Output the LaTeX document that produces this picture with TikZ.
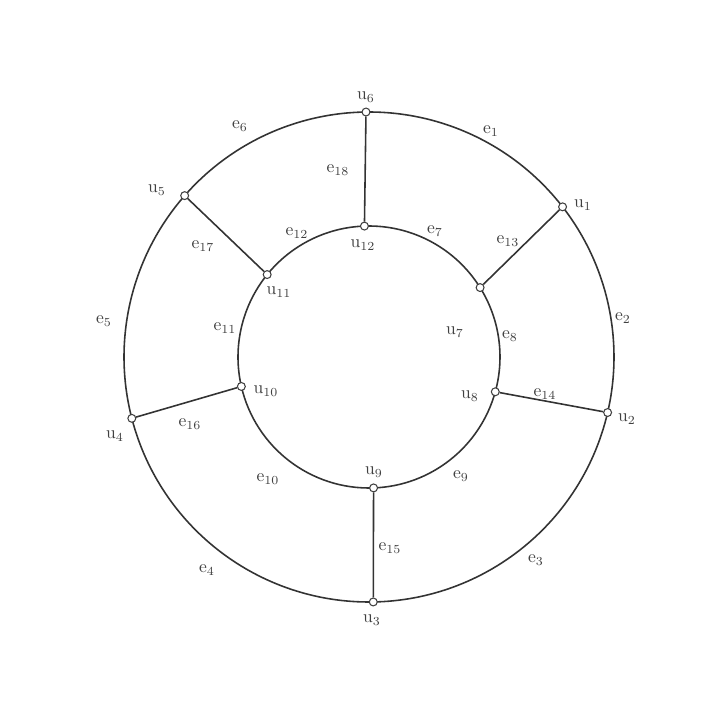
\documentclass[tikz,border=0pt]{standalone}
\usepackage{tikz}
\usetikzlibrary{positioning, backgrounds}

\begin{document}
\begin{tikzpicture}[vtx/.style={circle, draw=black!75, fill=white, line width=0.6pt, inner sep=0pt, minimum size=4.5pt},
    edg/.style={draw=black!80, line width=0.9pt},
    lbl/.style={text=black!75, inner sep=1pt}]
      \useasboundingbox (-7.38,-7.18) rectangle (6.9,7.14);
      \foreach \a/\n in {37.8/1,-13.1/2,-89/3,194.5/4,138.8/5,90.7/6}{
        \node[vtx] (u\n) at (\a:4.9) {};
      }
      \foreach \a/\n in {32/7,-15.4/8,-88/9,193/10,141/11,92/12}{
        \node[vtx] (u\n) at (\a:2.62) {};
      }
      \begin{pgfonlayer}{background}
        \foreach \n/\a/\b in {6/90.7/37.8,1/37.8/-13.1,2/-13.1/-89,3/-89/-165.5,4/194.5/138.8,5/138.8/90.7}{
          \draw[edg] (u\n) arc[start angle=\a, end angle=\b, radius=4.9];
        }
        \foreach \n/\a/\b in {12/92/32,7/32/-15.4,8/-15.4/-88,9/-88/-167,10/193/141,11/141/92}{
          \draw[edg] (u\n) arc[start angle=\a, end angle=\b, radius=2.62];
        }
      \end{pgfonlayer}
      \foreach \s/\t in {1/7,2/8,3/9,4/10,5/11,6/12}{
        \draw[edg] (u\s) -- (u\t);
      }
      \foreach \x/\y/\t/\n in {-0.06/5.2/u/6, 4.28/3.04/u/1, 5.16/-1.24/u/2, 0.06/-5.26/u/3,
          -5.08/-1.58/u/4, -4.24/3.34/u/5, -0.12/2.24/u/12, -1.8/1.3/u/11, 1.72/0.5/u/7,
          -2.06/-0.68/u/10, 2.02/-0.78/u/8, 0.1/-2.3/u/9,
          2.44/4.52/e/1, 5.08/0.78/e/2, 3.34/-4.06/e/3, -3.24/-4.26/e/4, -5.3/0.72/e/5,
          -2.58/4.62/e/6, 1.32/2.52/e/7, 2.82/0.42/e/8, 1.84/-2.38/e/9, -2.02/-2.44/e/10,
          -2.88/0.58/e/11, -1.44/2.48/e/12, 2.78/2.32/e/13, 3.52/-0.74/e/14, 0.42/-3.82/e/15,
          -3.58/-1.34/e/16, -3.32/2.22/e/17, -0.62/3.74/e/18}{
        \node[lbl] (l\t\n) at (\x,\y) {$\mathrm{\t}_{\n}$};
      }
    \end{tikzpicture}
\end{document}
